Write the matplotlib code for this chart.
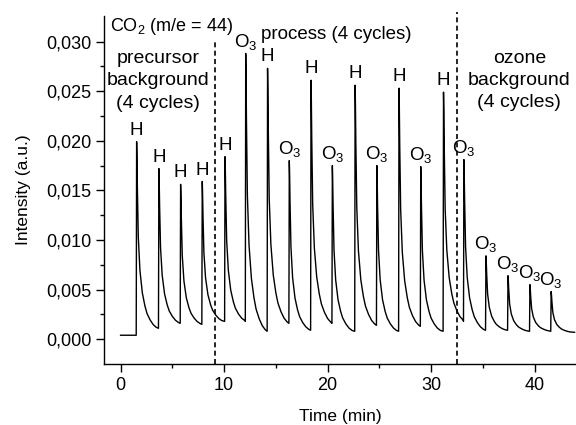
import numpy as np
import matplotlib
matplotlib.use('Agg')
import matplotlib.pyplot as plt

plt.rcParams['font.family'] = ['Liberation Sans', 'DejaVu Sans']
plt.rcParams['mathtext.fontset'] = 'custom'
plt.rcParams['mathtext.rm'] = 'Liberation Sans'
plt.rcParams['mathtext.default'] = 'regular'

# peak positions / heights (CO2, m/e = 44)
peak_times = [1.55, 3.70, 5.80, 7.89, 10.09, 12.09, 14.20, 16.30, 18.40, 20.46,
              22.66, 24.76, 26.90, 29.00, 31.20, 33.17, 35.30, 37.43, 39.55, 41.60]
peak_heights = [0.0199, 0.0172, 0.0156, 0.0159, 0.0184, 0.0288, 0.0273, 0.0180, 0.0261, 0.0175,
                0.0256, 0.0175, 0.0253, 0.0174, 0.0249, 0.0181, 0.0084, 0.0064, 0.0055, 0.0048]
# level the signal has decayed to just before the next pulse
trough_after = [0.0011, 0.0016, 0.0015, 0.0018, 0.0018, 0.0008, 0.0016, 0.0009, 0.0016, 0.0008,
                0.0014, 0.0008, 0.0013, 0.0008, 0.0018, 0.0009, 0.0009, 0.0008, 0.0008, 0.0007]
peak_labels = ['H', 'H', 'H', 'H', 'H', 'O$_3$', 'H', 'O$_3$', 'H', 'O$_3$',
               'H', 'O$_3$', 'H', 'O$_3$', 'H', 'O$_3$', 'O$_3$', 'O$_3$', 'O$_3$', 'O$_3$']
start_level = 0.0004
end_time = 43.9

pulse_dt = [0.0, 0.03, 0.07, 0.16, 0.32, 0.55, 0.80, 1.00, 1.30, 1.60, 1.90]
pulse_frac = [1.0, 0.92, 0.76, 0.49, 0.31, 0.19, 0.12, 0.08, 0.045, 0.02, 0.005]

# build trace
t = [0.0, peak_times[0] - 0.04]
y = [start_level, start_level]
for i, (tp, h, fl) in enumerate(zip(peak_times, peak_heights, trough_after)):
    t_next = peak_times[i + 1] if i + 1 < len(peak_times) else end_time
    for dt, fr in zip(pulse_dt, pulse_frac):
        if tp + dt < t_next - 0.06:
            t.append(tp + dt)
            y.append(fl + (h - fl) * fr)
    t.append(t_next - 0.04)
    y.append(fl)

fig = plt.figure(figsize=(5.76, 4.25), dpi=100)
ax = fig.add_axes([0.1806, 0.1435, 0.8194, 0.8185])
ax.plot(t, y, color='black', lw=1.0)

# section dividers
ax.plot([9.13, 9.13], [-0.0025, 0.0301], color='black', lw=1.2, ls=(0, (3, 2)), clip_on=False)
ax.plot([32.49, 32.49], [-0.0025, 0.0330], color='black', lw=1.2, ls=(0, (3, 2)), clip_on=False)

for tp, h, lab in zip(peak_times, peak_heights, peak_labels):
    ax.annotate(lab, (tp, h), xytext=(0, 5), textcoords='offset points',
                ha='center', va='baseline', fontsize=13.5)

ax.text(-1.0, 0.0311, 'CO$_2$ (m/e = 44)', fontsize=13, va='baseline', ha='left')
ax.text(13.58, 0.0303, 'process (4 cycles)', fontsize=13.5, va='baseline', ha='left')
for txt, yy in zip(['precursor', 'background', '(4 cycles)'], [0.02779, 0.02561, 0.02326]):
    ax.text(3.62, yy, txt, fontsize=14, va='baseline', ha='center')
for txt, yy in zip(['ozone', 'background', '(4 cycles)'], [0.02779, 0.02561, 0.02340]):
    ax.text(38.53, yy, txt, fontsize=14, va='baseline', ha='center')

ax.set_xlim(-1.6, 44.0)
ax.set_ylim(-0.0025, 0.03256)
ax.set_xticks([0, 10, 20, 30, 40])
ax.set_xticks([5, 15, 25, 35], minor=True)
yt = [0.0, 0.005, 0.010, 0.015, 0.020, 0.025, 0.030]
ax.set_yticks(yt)
ax.set_yticklabels([f'{v:.3f}'.replace('.', ',') for v in yt])
ax.set_yticks([0.0025, 0.0075, 0.0125, 0.0175, 0.0225, 0.0275], minor=True)
ax.tick_params(which='major', direction='out', length=6, width=1, labelsize=13, pad=3)
ax.tick_params(which='minor', direction='out', length=3, width=1)
for s in ['top', 'right']:
    ax.spines[s].set_visible(False)
for s in ['left', 'bottom']:
    ax.spines[s].set_linewidth(1)

ax.set_xlabel('Time (min)', fontsize=12.5, labelpad=11)
ax.set_ylabel('Intensity (a.u.)', fontsize=12.5, labelpad=11)

fig.savefig('out.png', dpi=100)
